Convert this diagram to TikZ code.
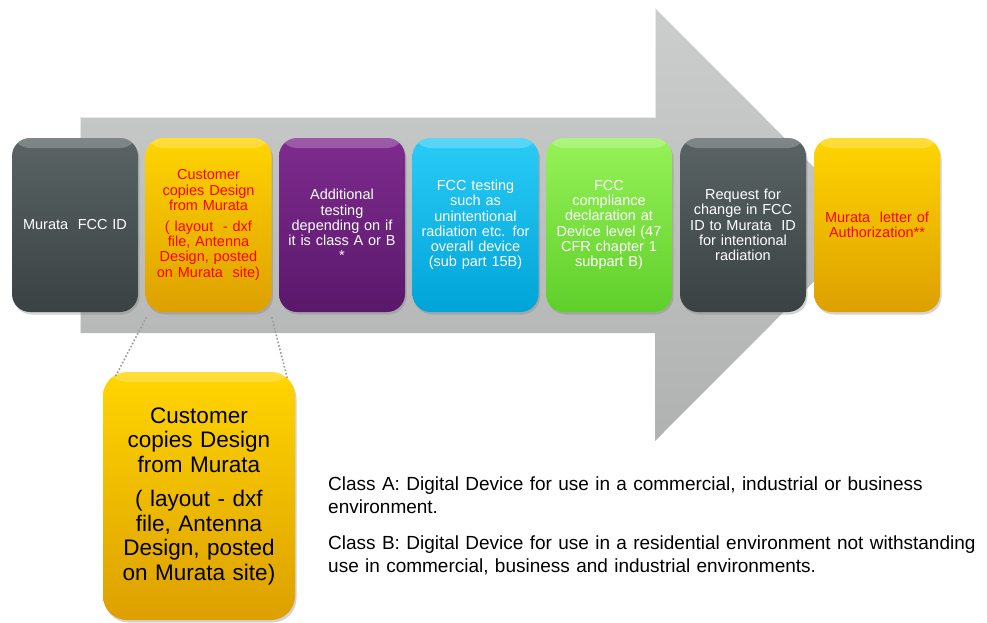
\documentclass[tikz,border=0pt]{standalone}
\usepackage{fontspec}
\setmainfont{Liberation Sans}
\usetikzlibrary{calc,shadows}
\definecolor{arrowtop}{HTML}{CCCDCD}
\definecolor{arrowbot}{HTML}{B0B1B1}
\definecolor{darktop}{HTML}{5A6464}
\definecolor{darkbot}{HTML}{3A4242}
\definecolor{yeltop}{HTML}{FFD500}
\definecolor{yelbot}{HTML}{DDA000}
\definecolor{purtop}{HTML}{7E2C8E}
\definecolor{purbot}{HTML}{5A186A}
\definecolor{cyantop}{HTML}{2ACBF6}
\definecolor{cyanbot}{HTML}{00A4D8}
\definecolor{greentop}{HTML}{96F258}
\definecolor{greenbot}{HTML}{5FCF2A}
\definecolor{dotgray}{HTML}{9A9A9A}
\begin{document}
\begin{tikzpicture}[x=1pt,y=-1pt,
  box/.style={rounded corners=18pt, minimum width=126pt, minimum height=174pt,
    text width=124pt, align=center, inner sep=0pt,
    font=\fontsize{14.5}{15.2}\selectfont,
    drop shadow={opacity=0.35, shadow xshift=1.5pt, shadow yshift=-2.5pt},
    path picture={\fill[white,opacity=0.22] ($(path picture bounding box.north west)+(0,0)$) rectangle ($(path picture bounding box.north east)+(0,-10pt)$);}},
  darkbox/.style={box, top color=darktop, bottom color=darkbot, text=white},
  yelbox/.style={box, top color=yeltop, bottom color=yelbot, text=red},
  purbox/.style={box, top color=purtop, bottom color=purbot, text=white},
  cyanbox/.style={box, top color=cyantop, bottom color=cyanbot, text=white},
  greenbox/.style={box, top color=greentop, bottom color=greenbot, text=white},
  zoomline/.style={dotgray, line width=1.6pt, dotted},
  note/.style={anchor=north west, align=left, inner sep=0pt, text width=660pt,
    font=\fontsize{19}{23}\selectfont}
]
\useasboundingbox (0,0) rectangle (987,622);
% big arrow
\shade[top color=arrowtop, bottom color=arrowbot, shading angle=0]
  (80,117) -- (655,117) -- (655,8) -- (871,224.5) -- (655,441) -- (655,333) -- (80,333) -- cycle;
\draw[white, opacity=0.6, line width=1pt] (80,333) -- (80,117) -- (655,117) -- (655,8);

\node[darkbox]  (b1) at (75,225)    {Murata~~FCC ID};
\node[yelbox]   (b2) at (208.5,225) {Customer\\copies Design\\from Murata\\[6pt]( layout~~- dxf\\file, Antenna\\Design, posted\\on Murata~~site)};
\node[purbox]   (b3) at (342,225)   {Additional\\testing\\depending on if\\it is class A or B\\{}*};
\node[cyanbox]  (b4) at (475.5,225) {FCC testing\\such as\\unintentional\\radiation etc. for\\overall device\\(sub part 15B)};
\node[greenbox] (b5) at (609,225)   {FCC\\compliance\\declaration at\\Device level (47\\CFR chapter 1\\subpart B)};
\node[darkbox]  (b6) at (743,225)   {Request for\\change in FCC\\ID to Murata~~ID\\for intentional\\radiation};
\node[yelbox]   (b7) at (877,225)   {Murata~~letter of\\Authorization**};

\node[box, top color=yeltop, bottom color=yelbot, text=black,
  minimum width=192pt, minimum height=248pt, text width=190pt,
  rounded corners=24pt,
  font=\fontsize{22.5}{24.5}\selectfont] (big) at (199,496)
  {Customer\\copies Design\\from Murata\\[10pt]( layout - dxf\\file, Antenna\\Design, posted\\on Murata~site)};

\draw[zoomline] ($(b2.south west)+(1,5)$) -- ($(big.north west)+(12,6)$);
\draw[zoomline] ($(b2.south east)+(0,5)$) -- ($(big.north east)+(-8,6)$);

\node[note] (classA) at (328,477) {Class A: Digital Device for use in a commercial, industrial or business\\environment.};
\node[note] (classB) at (328,536) {Class B: Digital Device for use in a residential environment not withstanding\\use in commercial, business and industrial environments.};
\end{tikzpicture}
\end{document}
